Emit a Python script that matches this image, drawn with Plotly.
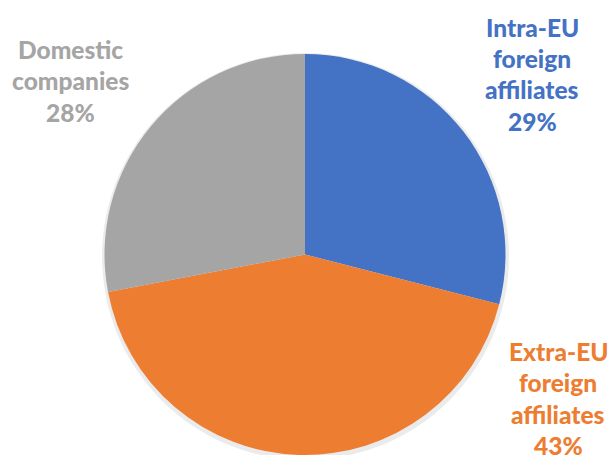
import plotly.graph_objects as go

# Share of companies by ownership type
categories = ["Intra-EU\nforeign\naffiliates", "Extra-EU\nforeign\naffiliates", "Domestic\ncompanies"]
shares = [29, 43, 28]
colors = ["#4472C4", "#ED7D31", "#A5A5A5"]

# Label anchor (centre x of text block, y of first line) in pixels
label_x = [532, 558, 70]
label_y = [27, 351, 49]
line_step = 31.5

W, H = 609, 455

fig = go.Figure()
fig.add_trace(go.Pie(
    values=shares,
    labels=[c.replace("\n", " ") for c in categories],
    marker=dict(colors=colors, line=dict(width=0)),
    sort=False,
    direction="clockwise",
    rotation=0,
    textinfo="none",
    hoverinfo="label+percent",
    showlegend=False,
    domain=dict(x=[104 / W, 506 / W], y=[0.0, (H - 54) / H]),
))

# Faint shadow around the pie
cx, cy, r = 305, 255, 201
fig.add_shape(type="circle", xref="paper", yref="paper", layer="below",
              x0=(cx - r - 2) / W, x1=(cx + r + 3) / W,
              y0=(H - (cy + r + 4)) / H, y1=(H - (cy - r - 1)) / H,
              fillcolor="rgba(0,0,0,0.08)", line=dict(width=0))

for cat, val, col, lx, ly in zip(categories, shares, colors, label_x, label_y):
    lines = cat.split("\n") + [f"{val}%"]
    for i, txt in enumerate(lines):
        fig.add_annotation(
            x=lx / W, y=1 - (ly + i * line_step) / H,
            xref="paper", yref="paper",
            text=txt, showarrow=False,
            xanchor="center", yanchor="middle",
            font=dict(family="Lato", size=24.5, color=col, weight=900),
        )

fig.update_layout(
    width=W, height=H,
    margin=dict(l=0, r=0, t=0, b=0),
    paper_bgcolor="white", plot_bgcolor="white",
)

fig.write_html("out.html")
